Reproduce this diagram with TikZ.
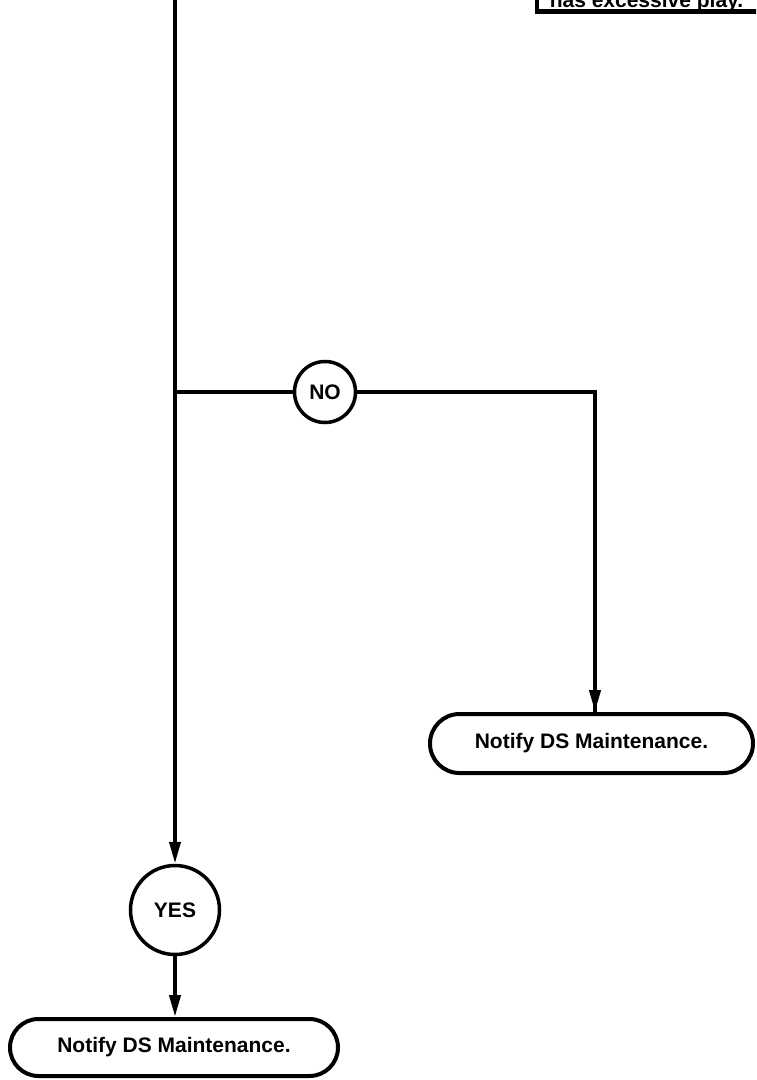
\documentclass[tikz,border=0pt]{standalone}
\usepackage{fontspec}
\setmainfont{Liberation Sans}
\usetikzlibrary{arrows.meta,shapes.misc}
\begin{document}
\begin{tikzpicture}[x=1pt,y=-1pt,
  line/.style={line width=4pt},
  arr/.style={line, -{Triangle[length=22pt,width=11pt]}},
  txt/.style={font=\bfseries\fontsize{21}{25}\selectfont},
  term/.style={draw, line width=4pt, rounded rectangle, rounded rectangle arc length=180, inner sep=0pt, txt},
  dec/.style={draw, circle, line width=3.5pt, inner sep=0pt, txt}]
\useasboundingbox (0,0) rectangle (756,1080);
\clip (0,0) rectangle (756,1080);
% partially visible box at top right
\node[draw, line width=4.5pt, minimum width=300pt, minimum height=90pt, anchor=south west, inner sep=0pt] (topbox) at (534.5,13.5) {};
\node[txt, anchor=base] (toptext) at (646.5,7) {has excessive play.};
% nodes
\coordinate (top) at (175,-10);
\coordinate (junc) at (175,392);
\node[dec, minimum size=61pt] (no) at (325,392) {NO};
\coordinate (corner) at (595,392);
\node[term, minimum width=323pt, minimum height=59pt] (rbox) at (591.5,743.5) {Notify DS Maintenance.};
\node[dec, minimum size=89pt] (yes) at (175,910) {YES};
\node[term, minimum width=328pt, minimum height=57pt] (bbox) at (174,1047.5) {Notify DS Maintenance.};
% connectors
\draw[arr] (top) -- (yes);
\draw[line] (junc) -- (no);
\draw[line, line join=miter] (no) -- (corner) -- (corner |- rbox.north);
\draw[arr] (corner) -- (corner |- rbox.north);
\draw[arr] (yes) -- (yes |- bbox.north);
\end{tikzpicture}
\end{document}
